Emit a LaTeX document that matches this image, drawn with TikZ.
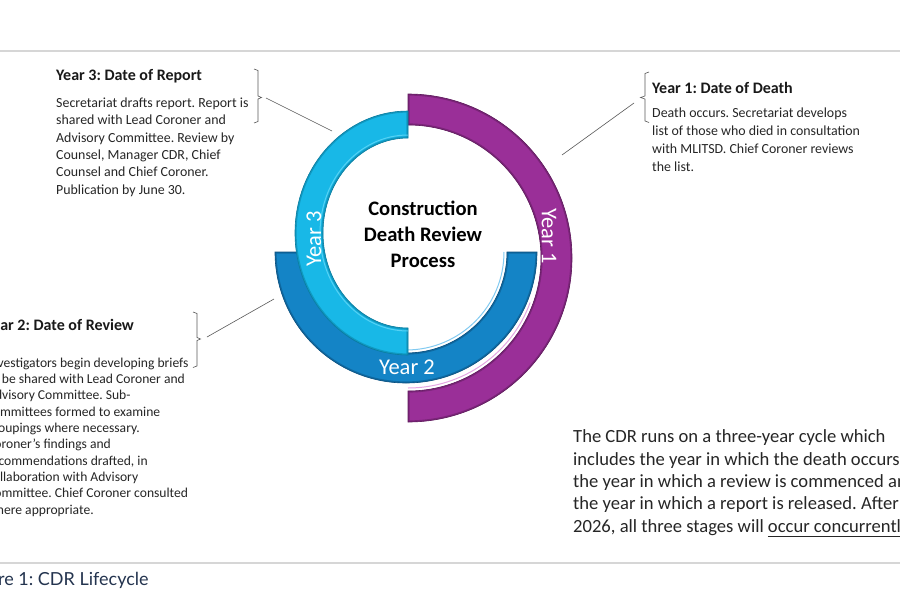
\documentclass[tikz,border=0pt]{standalone}
\usepackage{fontspec}
\setmainfont{Carlito}
\newfontfamily\capfont{Lato}
\frenchspacing
\definecolor{purpleband}{HTML}{9A2F98}
\definecolor{purpleedge}{HTML}{5E1A5C}
\definecolor{purplehi}{HTML}{D26BD0}
\definecolor{darkband}{HTML}{1484C6}
\definecolor{darkedge}{HTML}{0A4F7E}
\definecolor{darkhi}{HTML}{4CB4EC}
\definecolor{lightband}{HTML}{18B8E7}
\definecolor{lightedge}{HTML}{0A7C9E}
\definecolor{lighthi}{HTML}{6FDDFA}
\definecolor{captioncol}{HTML}{24344F}
\definecolor{rulecol}{HTML}{D6D6D6}
\newcommand\ringband[4]{%
  \fill[#2] #1;
  \begin{scope}\clip #1; \draw[#3, line width=3.2, opacity=0.5] #1; \end{scope}
  \draw[#3, line width=0.6] #1;
}
\def\pathP{(408,94) arc[start angle=-90,end angle=90,radius=164] -- (408,391) arc[start angle=90,end angle=-90,radius=133] -- cycle}
\def\pathD{(275,252) arc[start angle=180,end angle=0,radius=131] -- (507,252) arc[start angle=0,end angle=180,radius=101] -- cycle}
\def\pathL{(408,111) arc[start angle=-90,end angle=-270,x radius=113,y radius=122] -- (408,328) arc[start angle=90,end angle=270,x radius=85,y radius=95] -- cycle}
\tikzset{
  titletxt/.style={anchor=base west, inner sep=0, text=black!90, font=\bfseries\fontsize{16}{19}\selectfont},
  bodytxt/.style={anchor=base west, align=left, inner sep=0, text=black!85},
  ringlbl/.style={text=white, inner sep=0, font=\fontsize{22.5}{26}\selectfont},
  brk/.style={draw=black!65, line width=0.6},
  leader/.style={draw=black!65, line width=0.6},
}
\begin{document}
\begin{tikzpicture}[x=1pt,y=-1pt]
\useasboundingbox (0,0) rectangle (900,600);
\clip (0,0) rectangle (900,600);
\fill[white] (0,0) rectangle (900,600);
% rules
\draw[rulecol, line width=1.3] (0,51) -- (900,51);
\draw[rulecol, line width=1.3] (0,563) -- (900,563);
% ring bands
\ringband{\pathP}{purpleband}{purpleedge}{}
\draw[purplehi, line width=1, opacity=0.6] (408,388) arc[start angle=90,end angle=20,radius=130];
\ringband{\pathD}{darkband}{darkedge}{}
\draw[darkhi, line width=1, opacity=0.7] (308,252) arc[start angle=180,end angle=0,radius=98];
\ringband{\pathL}{lightband}{lightedge}{}
\draw[lighthi, line width=1, opacity=0.7] (408,135) arc[start angle=-90,end angle=-270,x radius=88,y radius=98];
% ring labels
\node[ringlbl, rotate=-90] (y1) at (549,236) {Year 1};
\node[ringlbl, rotate=90] (y3) at (314,239) {Year 3};
\node[ringlbl] (y2) at (407,367) {Year 2};
% centre title (base = last line)
\node[anchor=base, align=center, inner sep=0, font=\bfseries\fontsize{20.6}{26}\selectfont] (ctr) at (423,267) {Construction\\Death Review\\Process};
% Year 3 block
\node[titletxt] (t3) at (56,80.5) {Year 3: Date of Report};
\node[bodytxt, font=\fontsize{13.9}{17.3}\selectfont] (b3) at (56,194) {Secretariat drafts report. Report is\\shared with Lead Coroner and\\Advisory Committee. Review by\\Counsel, Manager CDR, Chief\\Counsel and Chief Coroner.\\Publication by June 30.};
\coordinate (k3) at (266,98);
\coordinate (a3) at (332,131);
\draw[brk] (254,69) -- (258,70.5) -- (258,96) -- (261.5,97.5) -- (258,99) -- (258,121.5) -- (254,123);
\draw[leader] (k3) -- (a3);
% Year 1 block
\node[titletxt] (t1) at (652,93) {Year 1: Date of Death};
\node[bodytxt, font=\fontsize{13.9}{17.8}\selectfont] (b1) at (652,171) {Death occurs. Secretariat develops\\list of those who died in consultation\\with MLITSD. Chief Coroner reviews\\the list.};
\coordinate (k1) at (634,103);
\coordinate (a1) at (562,155);
\draw[brk] (649,72) -- (645,73.5) -- (645,96) -- (640.5,97.5) -- (645,99) -- (645,121) -- (649,122.5);
\draw[leader] (k1) -- (a1);
% Year 2 block
\node[titletxt] (t2) at (-15,330.5) {Year 2: Date of Review};
\node[bodytxt, font=\fontsize{13.6}{16.3}\selectfont] (b2) at (-13,514) {Investigators begin developing briefs\\to be shared with Lead Coroner and\\Advisory Committee. Sub-\\committees formed to examine\\groupings where necessary.\\Coroner’s findings and\\recommendations drafted, in\\collaboration with Advisory\\Committee. Chief Coroner consulted\\where appropriate.};
\coordinate (k2) at (207,337);
\coordinate (a2) at (274,299);
\draw[brk] (193,312) -- (197,313.5) -- (197,337.5) -- (200.5,339) -- (197,340.5) -- (197,366) -- (193,367.5);
\draw[leader] (k2) -- (a2);
% right paragraph
\node[bodytxt, font=\fontsize{18.6}{22.3}\selectfont] (para) at (573,532) {The CDR runs on a three-year cycle which\\includes the year in which the death occurs,\\the year in which a review is commenced and\\the year in which a report is released. After\\2026, all three stages will \underline{occur concurrently}.};
% caption
\node[anchor=base west, inner sep=0, text=captioncol, font=\capfont\fontsize{18}{21}\selectfont] (cap) at (-36,585) {Figure 1: CDR Lifecycle};
\end{tikzpicture}
\end{document}
